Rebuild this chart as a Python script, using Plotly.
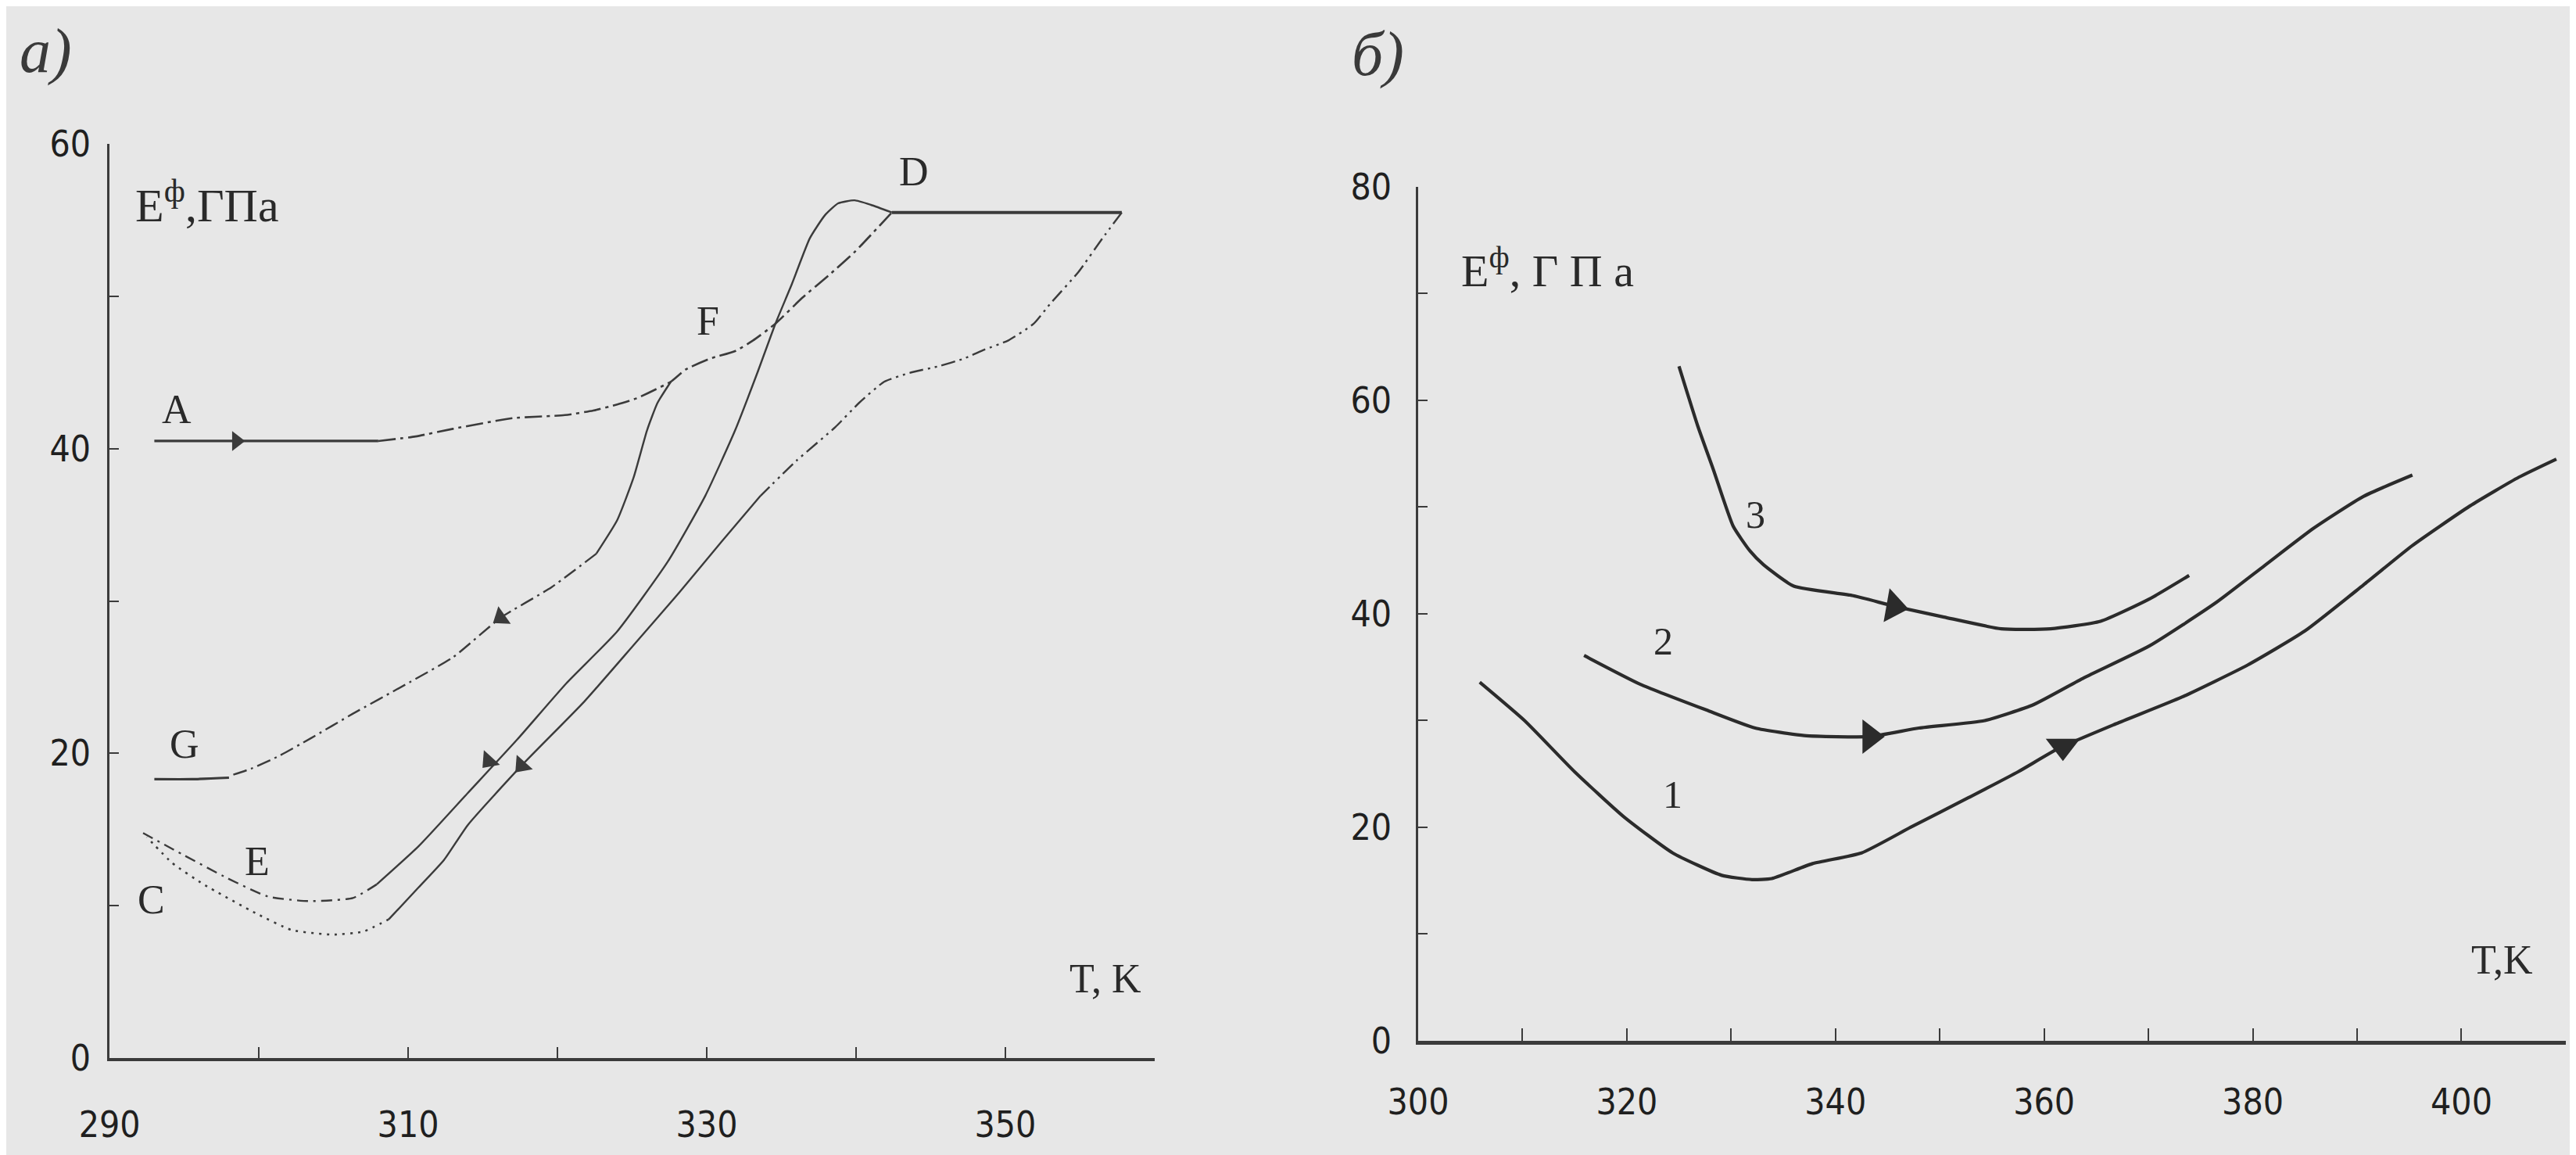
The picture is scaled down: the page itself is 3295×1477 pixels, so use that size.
import plotly.graph_objects as go

# ---------------- Panel a) data (T, K ; E, GPa) ----------------
A_solid_T = [293.0, 298.0, 303.0, 308.0]
A_solid_E = [40.5, 40.5, 40.5, 40.5]
A_dash_T = [308.0, 310.5, 313.0, 317.0, 320.5, 322.4, 324.0, 325.3, 326.6, 327.6,
            328.6, 330.2, 331.9, 333.1, 334.6, 336.4, 338.2, 339.9, 342.4]
A_dash_E = [40.5, 40.8, 41.3, 42.0, 42.2, 42.5, 42.9, 43.3, 43.9, 44.4,
            45.2, 45.9, 46.4, 47.1, 48.2, 49.9, 51.4, 52.9, 55.5]
DB_T = [342.4, 350.0, 357.8]
DB_E = [55.5, 55.5, 55.5]
B_dash_T = [357.8, 356.5, 354.9, 353.0, 351.9, 350.2, 348.6, 347.2, 345.5, 343.7,
            341.9, 340.2, 338.6, 336.0, 333.6]
B_dash_E = [55.5, 53.8, 51.6, 49.5, 48.2, 47.1, 46.5, 45.9, 45.4, 45.0,
            44.4, 43.0, 41.4, 39.2, 36.9]
B_solid_T = [333.6, 331.0, 328.2, 325.1, 321.8, 317.6, 314.0, 312.4, 310.7, 308.7]
B_solid_E = [36.9, 33.9, 30.6, 27.1, 23.4, 19.2, 15.3, 13.0, 11.2, 9.1]
C_dot_T = [308.7, 307.0, 304.9, 302.2, 299.8, 296.3, 294.2, 292.5]
C_dot_E = [9.1, 8.3, 8.1, 8.4, 9.5, 11.4, 12.8, 14.5]
H_solid_T = [342.4, 341.0, 339.9, 338.8, 337.9, 336.9, 335.7, 334.6, 333.4, 331.9,
             329.9, 327.4, 324.0, 320.6, 317.3, 314.0, 310.7, 307.9]
H_solid_E = [55.5, 56.0, 56.3, 56.1, 55.3, 53.8, 50.8, 48.2, 45.0, 41.2,
             36.9, 32.6, 28.0, 24.6, 20.9, 17.4, 13.9, 11.4]
E_dash_T = [307.9, 306.3, 303.3, 300.6, 297.9, 295.0, 292.0]
E_dash_E = [11.4, 10.5, 10.3, 10.6, 11.8, 13.3, 14.9]
G_steep_T = [327.6, 326.7, 326.0, 325.1, 324.0, 322.6]
G_steep_E = [44.4, 43.0, 41.2, 38.1, 35.3, 33.1]
G_dash_T = [322.6, 319.6, 316.2, 313.0, 309.8, 306.3, 303.5, 301.3, 299.5, 298.0]
G_dash_E = [33.1, 30.9, 28.9, 26.3, 24.5, 22.6, 21.0, 19.8, 19.0, 18.5]
G_flat_T = [298.0, 295.5, 293.0]
G_flat_E = [18.4, 18.3, 18.3]

arrA_T, arrA_E = [298.5], [40.5]
arrG_T, arrG_E = [316.2], [28.9]
arrH_T, arrH_E = [315.4], [19.5]
arrB_T, arrB_E = [317.6], [19.2]

left_xticks = [290, 310, 330, 350]
left_xminor = [300, 320, 340, 360]
left_yticks = [0, 20, 40, 60]
left_yminor = [10, 30, 50]

# ---------------- Panel b) data ----------------
c1_T = [305.9, 310.2, 315.0, 319.7, 324.4, 329.1, 332.0, 333.9, 337.8, 342.5, 347.2, 352.8,
        357.5, 361.4, 366.9, 373.2, 379.5, 385.0, 390.6, 395.3, 400.8, 405.5, 409.1]
c1_E = [33.6, 30.0, 25.2, 21.0, 17.6, 15.5, 15.1, 15.2, 16.6, 17.6, 20.0, 22.8,
        25.2, 27.4, 29.7, 32.2, 35.2, 38.4, 42.7, 46.4, 50.1, 52.8, 54.5]
c2_T = [315.9, 321.3, 327.6, 332.3, 337.0, 343.3, 348.0, 354.3, 359.0, 363.8, 370.1,
        376.4, 381.1, 385.8, 390.6, 395.3]
c2_E = [36.1, 33.4, 31.0, 29.3, 28.6, 28.5, 29.3, 30.0, 31.5, 34.0, 37.0,
        41.0, 44.5, 48.0, 51.0, 53.0]
c3_T = [325.0, 326.8, 328.3, 330.2, 331.8, 333.1, 336.0, 341.7, 345.7, 350.4, 355.9,
        360.6, 365.4, 370.1, 373.9]
c3_E = [63.2, 57.6, 53.5, 48.2, 45.9, 44.6, 42.6, 41.7, 40.7, 39.7, 38.6,
        38.6, 39.3, 41.4, 43.6]
arr1_T, arr1_E = [361.8], [27.6]
arr2_T, arr2_E = [343.3], [28.5]
arr3_T, arr3_E = [345.6], [40.7]

right_xticks = [300, 320, 340, 360, 380, 400]
right_xminor = [310, 330, 350, 370, 390, 410]
right_yticks = [0, 20, 40, 60, 80]
right_yminor = [10, 30, 50, 70]

INK = "#3b3b3b"
INK2 = "#2b2b2b"
BG = "#e7e7e7"
SERIF = "Liberation Serif, Times New Roman, serif"
NARROW = "Liberation Sans Narrow, DejaVu Sans Condensed, Liberation Sans, Arial, sans-serif"

fig = go.Figure()


def seg(x, y, dash="solid", width=2.6, color=INK, xa="x", ya="y"):
    fig.add_trace(go.Scatter(x=x, y=y, mode="lines", xaxis=xa, yaxis=ya,
                             line=dict(color=color, width=width, dash=dash, shape="spline", smoothing=0.5),
                             showlegend=False, hoverinfo="skip"))


def arrow(x, y, symbol, angle=0, size=22, color=INK, xa="x", ya="y"):
    fig.add_trace(go.Scatter(x=x, y=y, mode="markers", xaxis=xa, yaxis=ya,
                             marker=dict(symbol=symbol, angle=angle, size=size, color=color,
                                         line=dict(width=0)),
                             showlegend=False, hoverinfo="skip"))


# panel a
seg(A_solid_T, A_solid_E, "solid", 3.2)
seg(A_dash_T, A_dash_E, "22px,6px,4px,6px", 2.6)
seg(DB_T, DB_E, "solid", 4.0)
seg(B_dash_T, B_dash_E, "18px,6px,3px,6px,3px,6px", 2.4)
seg(B_solid_T, B_solid_E, "solid", 2.4)
seg(C_dot_T, C_dot_E, "3px,7px", 2.6)
seg(H_solid_T, H_solid_E, "solid", 2.4)
seg(E_dash_T, E_dash_E, "14px,7px,3px,7px", 2.4)
seg(G_steep_T, G_steep_E, "solid", 2.4)
seg(G_dash_T, G_dash_E, "18px,6px,3px,6px", 2.4)
seg(G_flat_T, G_flat_E, "solid", 3.2)
arrow(arrA_T, arrA_E, "triangle-right", 0, 22)
arrow(arrG_T, arrG_E, "triangle-up", 235, 24)
arrow(arrH_T, arrH_E, "triangle-up", 222, 24)
arrow(arrB_T, arrB_E, "triangle-up", 222, 24)

# panel b
seg(c1_T, c1_E, "solid", 4.2, INK2, "x2", "y2")
seg(c2_T, c2_E, "solid", 4.2, INK2, "x2", "y2")
seg(c3_T, c3_E, "solid", 4.2, INK2, "x2", "y2")
arrow(arr1_T, arr1_E, "triangle-down", 0, 38, INK2, "x2", "y2")
arrow(arr2_T, arr2_E, "triangle-right", 0, 38, INK2, "x2", "y2")
arrow(arr3_T, arr3_E, "triangle-right", 10, 38, INK2, "x2", "y2")


def axis(domain, rng, vals, minor, lw, tlen, standoff, anchor):
    return dict(domain=domain, range=rng, tickmode="array", tickvals=vals,
                ticktext=[str(v) for v in vals], automargin=False,
                showgrid=False, zeroline=False, showline=True, linecolor=INK, linewidth=lw,
                ticks="inside", tickcolor=INK, tickwidth=2, ticklen=tlen,
                ticklabelstandoff=standoff, anchor=anchor,
                minor=dict(tickmode="array", tickvals=minor, ticks="inside", ticklen=tlen,
                           tickwidth=2, tickcolor=INK, showgrid=False),
                tickfont=dict(family=NARROW, size=46, color="#1f1f1f"))


fig.update_layout(
    width=3295, height=1477,
    margin=dict(l=0, r=0, t=0, b=0, autoexpand=False),
    paper_bgcolor=BG, plot_bgcolor=BG,
    xaxis=axis([0.0401, 0.4458], [290, 360], left_xticks, left_xminor, 3.5, 14, 42, "y"),
    yaxis=axis([0.0894, 0.8808], [0, 60], left_yticks, left_yminor, 2.5, 12, 12, "x"),
    xaxis2=axis([0.5481, 0.9936], [300, 410], right_xticks, right_xminor, 4.5, 16, 34, "y2"),
    yaxis2=axis([0.1043, 0.8436], [0, 80], right_yticks, right_yminor, 2.5, 12, 22, "x2"),
)

ann = []


def txt(x, y, s, size=52, xa="x", ya="y", xanchor="center", font=SERIF, color="#2a2a2a"):
    ann.append(dict(x=x, y=y, xref=xa, yref=ya, text=s, showarrow=False, xanchor=xanchor,
                    yanchor="middle", font=dict(family=font, size=size, color=color)))


# panel a labels
txt(291.6, 56.2, "E<sup>ф</sup>,ГПа", 60, xanchor="left")
txt(294.5, 42.6, "A", 52)
txt(343.9, 58.2, "D", 52)
txt(360.4, 55.9, "B", 52)
txt(330.1, 48.4, "F", 52)
txt(295.0, 20.6, "G", 52)
txt(299.9, 12.9, "E", 52)
txt(292.8, 10.4, "C", 52)
txt(354.2, 5.2, "T, K", 52, xanchor="left")

# panel b labels
txt(304.0, 72.4, "E<sup>ф</sup>, Г П а", 58, "x2", "y2", xanchor="left")
txt(332.3, 49.3, "3", 50, "x2", "y2")
txt(323.5, 37.4, "2", 50, "x2", "y2")
txt(324.4, 23.1, "1", 50, "x2", "y2")
txt(400.8, 7.6, "T,K", 52, "x2", "y2", xanchor="left")

# panel titles
ann.append(dict(x=50 / 3295, y=1 - 58 / 1477, xref="paper", yref="paper", text="<i>а)</i>",
                showarrow=False, xanchor="center", yanchor="middle",
                font=dict(family=SERIF, size=80, color="#3a3a3a")))
ann.append(dict(x=1754 / 3295, y=1 - 62 / 1477, xref="paper", yref="paper", text="<i>б)</i>",
                showarrow=False, xanchor="center", yanchor="middle",
                font=dict(family=SERIF, size=80, color="#3a3a3a")))

fig.update_layout(annotations=ann)
fig.write_html("out.html")
